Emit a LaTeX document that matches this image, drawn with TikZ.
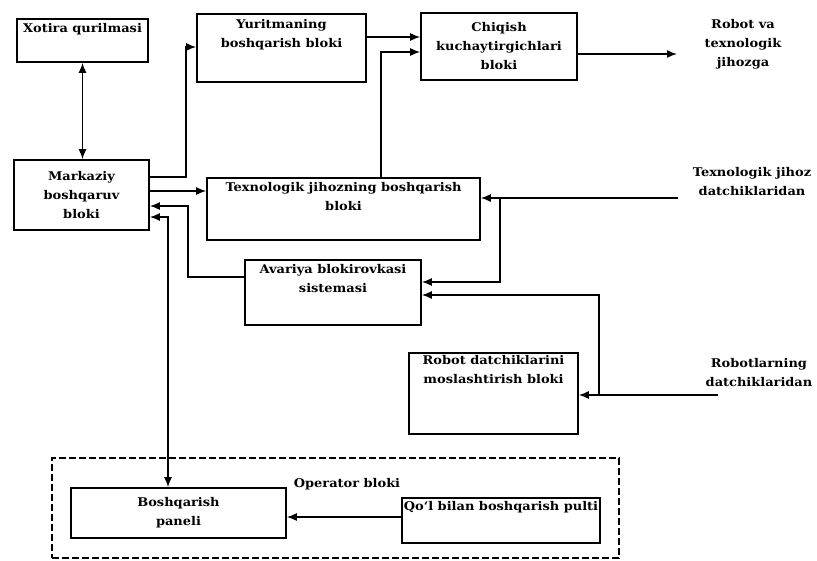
\documentclass[tikz,border=0pt]{standalone}
\usepackage{fontspec}
\setmainfont[FakeStretch=1.08]{DejaVu Serif}
\usetikzlibrary{arrows.meta}
\tikzset{
  box/.style={draw, line width=1.6pt, rectangle, inner sep=0pt},
  txt/.style={font=\fontsize{12}{19}\selectfont\bfseries, align=center, inner sep=1pt},
  lbl/.style={txt, anchor=north, label distance=0pt},
  conn/.style={line width=1.5pt, -{Latex[length=10pt,width=8pt]}},
  bconn/.style={line width=1.5pt, {Latex[length=10pt,width=8pt]}-{Latex[length=10pt,width=8pt]}},
  frame/.style={draw, line width=1.6pt, dash pattern=on 7pt off 3pt}
}
\begin{document}
\begin{tikzpicture}[x=1pt,y=-1pt]
\useasboundingbox (0,0) rectangle (817,560);
% boxes
\node[box, minimum width=131pt, minimum height=43pt, label={[lbl,yshift=-4pt]north:Xotira qurilmasi}] (xot) at (82.5,40.5) {};
\node[box, minimum width=169pt, minimum height=68pt, label={[lbl,yshift=-5pt]north:Yuritmaning\\boshqarish bloki}] (yur) at (281.5,48) {};
\node[box, minimum width=156pt, minimum height=67pt, txt] (chi) at (499,46.5) {Chiqish\\kuchaytirgichlari\\bloki};
\node[box, minimum width=135pt, minimum height=70pt, txt] (mar) at (81.5,195) {Markaziy\\boshqaruv\\bloki};
\node[box, minimum width=273pt, minimum height=62pt, label={[lbl,yshift=-4pt]north:Texnologik jihozning boshqarish\\bloki}] (tex) at (343.5,209) {};
\node[box, minimum width=176pt, minimum height=65pt, label={[lbl,yshift=-4pt]north:Avariya blokirovkasi\\sistemasi}] (ava) at (333,292.5) {};
\node[box, minimum width=169pt, minimum height=81pt, label={[lbl,yshift=-2pt]north:Robot datchiklarini\\moslashtirish bloki}] (rob) at (493.5,393.5) {};
\node[box, minimum width=215pt, minimum height=50pt, txt] (bos) at (178.5,513) {Boshqarish\\paneli};
\node[box, minimum width=198pt, minimum height=45pt, label={[lbl,yshift=-3pt]north:Qo‘l bilan boshqarish pulti}] (qol) at (501,520.5) {};
\node[frame, minimum width=567pt, minimum height=100pt, inner sep=0pt] (opr) at (335.5,508) {};
\node[txt] (oprt) at (347,484) {Operator bloki};
% free texts
\node[txt] (out) at (743,44) {Robot va\\texnologik\\jihozga};
\node[txt] (tdat) at (752,182) {Texnologik jihoz\\datchiklaridan};
\node[txt] (rdat) at (759,373) {Robotlarning\\datchiklaridan};
% coordinates
\coordinate (tsrc) at (678,198);
\coordinate (tbr) at (500,198);
\coordinate (rsrc) at (718,395);
\coordinate (rbr) at (599,395);
% connectors
\draw[bconn] (xot.south) -- (xot.south |- mar.north);
\draw[conn] (mar.east |- 0,177) -- (186,177) -- (186,47) -- (yur.west |- 0,47);
\draw[conn] (yur.east |- 0,37) -- (chi.west |- 0,37);
\draw[conn] (tex.north -| 381,0) -- (381,52) -- (chi.west |- 0,52);
\draw[conn] (chi.east |- 0,54) -- (677,54);
\draw[conn] (mar.east |- 0,191) -- (tex.west |- 0,191);
\draw[conn] (ava.west |- 0,277) -- (188,277) -- (188,206) -- (mar.east |- 0,206);
\draw[bconn] (bos.north -| 168,0) -- (168,217) -- (mar.east |- 0,217);
\draw[conn] (tsrc) -- (tex.east |- tsrc);
\draw[conn] (tbr) -- (500,282) -- (ava.east |- 0,282);
\draw[conn] (rsrc) -- (rob.east |- rsrc);
\draw[conn] (rbr) -- (599,295) -- (ava.east |- 0,295);
\draw[conn] (qol.west |- 0,517) -- (bos.east |- 0,517);
\end{tikzpicture}
\end{document}
